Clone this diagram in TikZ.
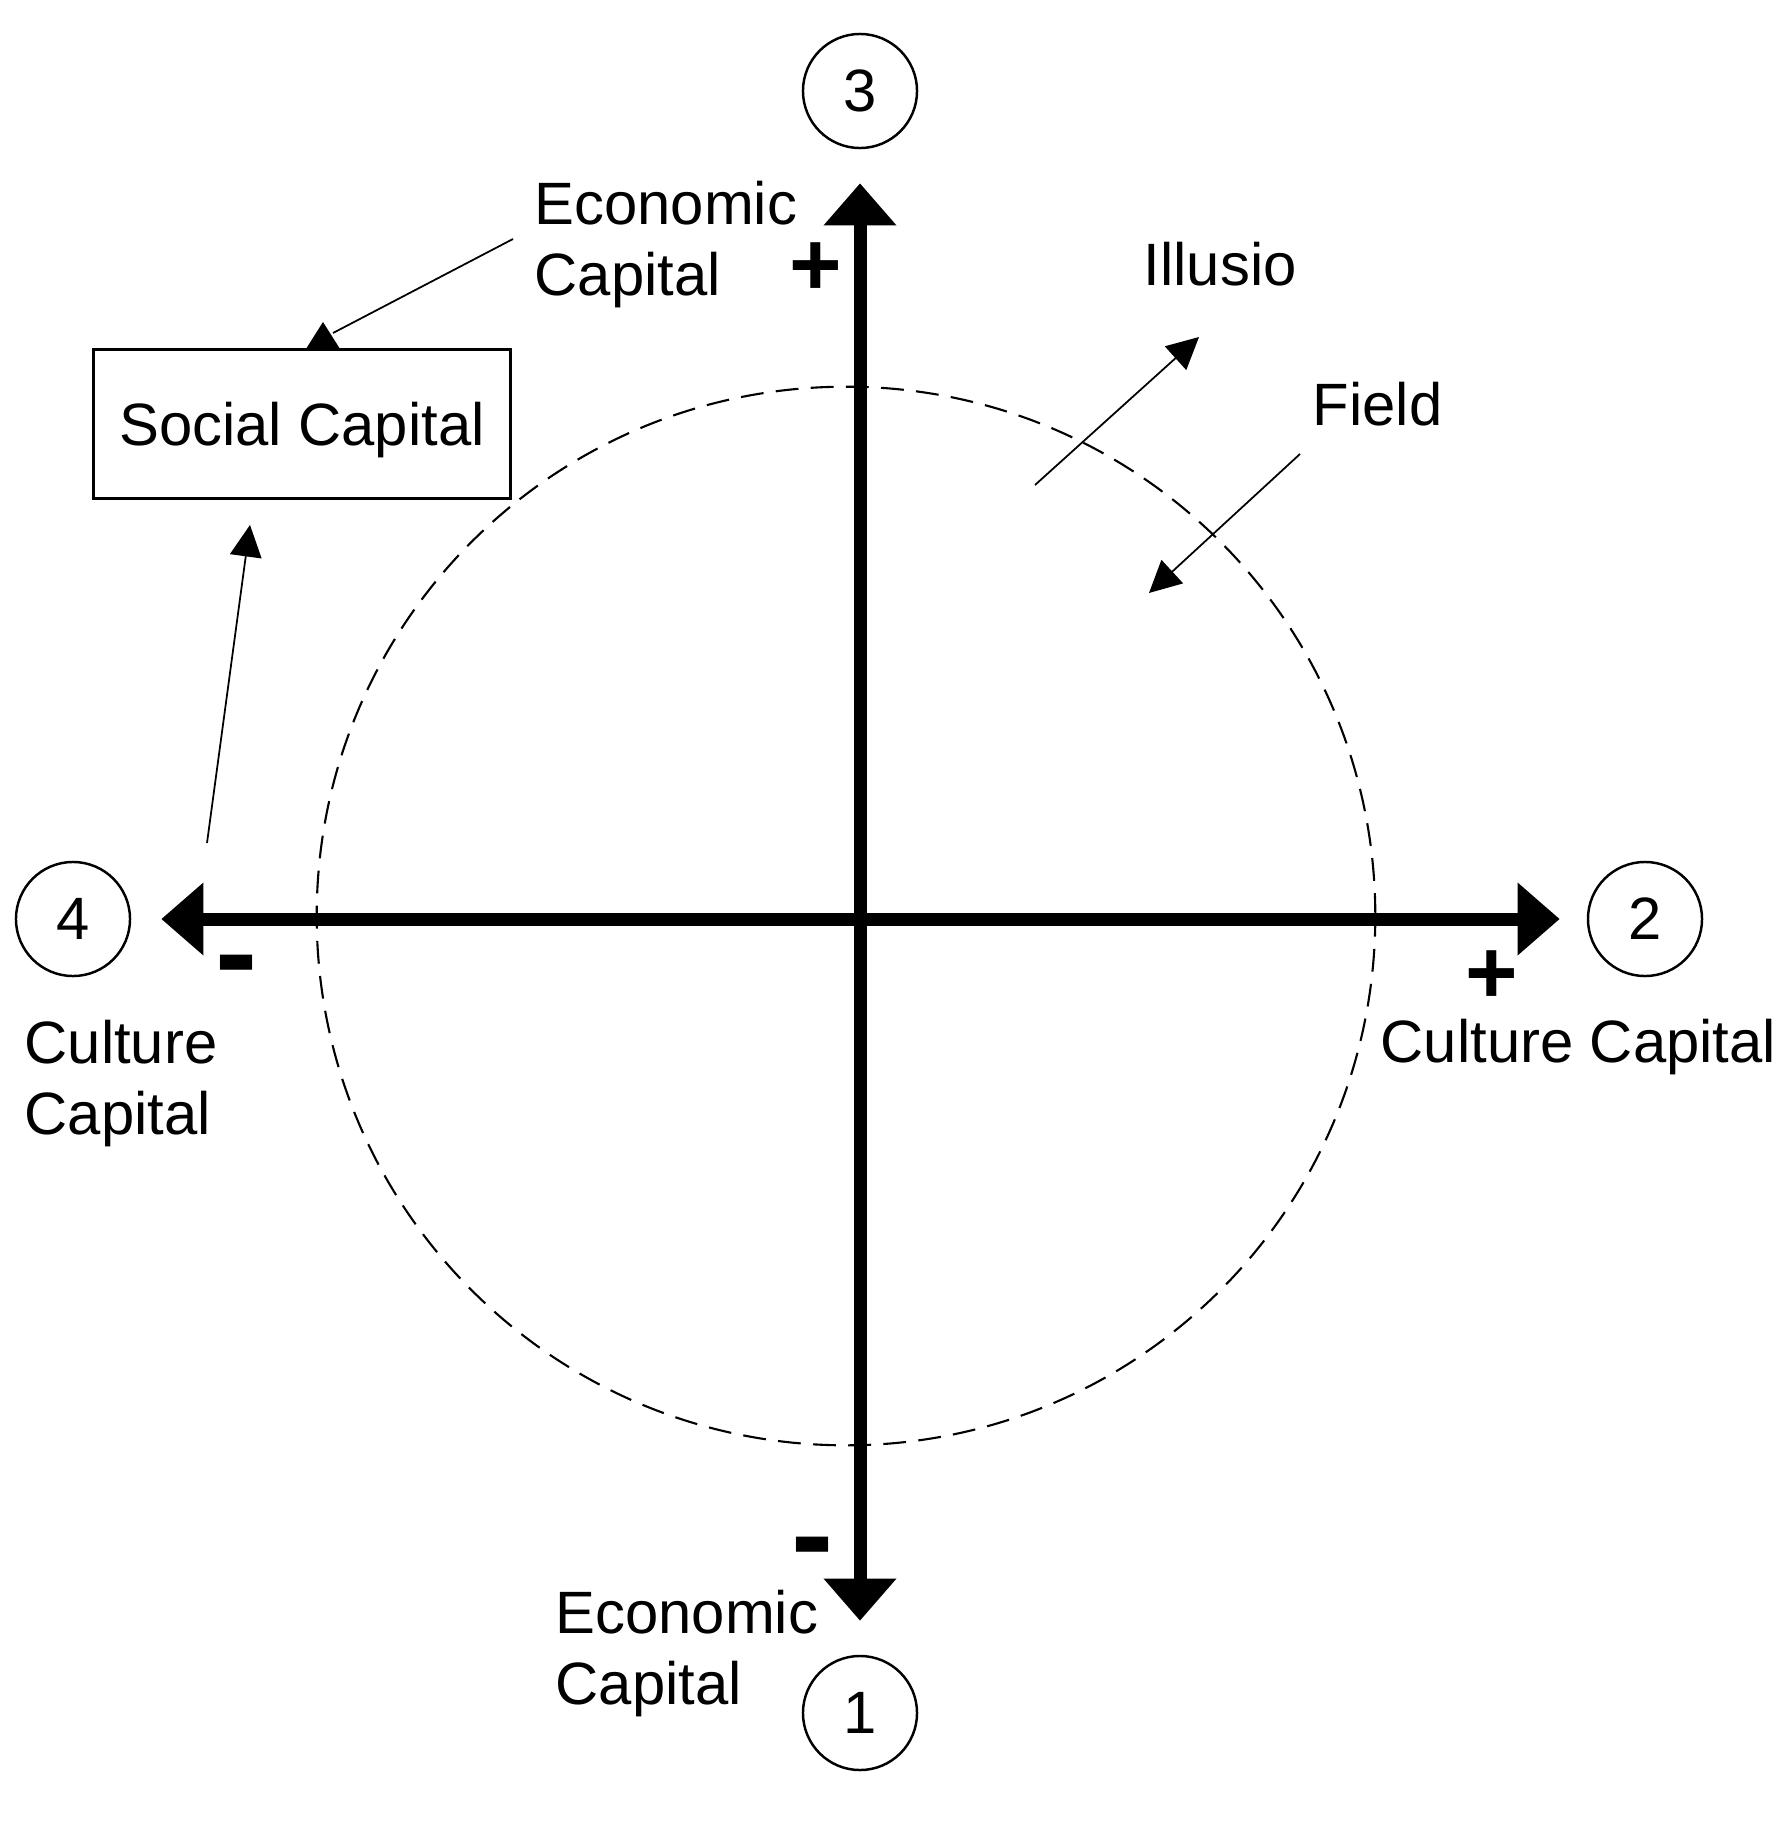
\documentclass[tikz,border=0pt]{standalone}
\usepackage{fontspec}
\setmainfont{Liberation Sans}
\usetikzlibrary{arrows.meta,calc}
\newcommand{\capfont}{\fontsize{17}{20.3}\selectfont}
\newcommand{\plusfont}{\fontsize{25.6}{28}\selectfont\bfseries}
\newcommand{\minusfont}{\fontsize{36}{38}\selectfont\bfseries}
\tikzset{
  numc/.style={draw,circle,line width=0.7pt,minimum size=1.14cm,inner sep=0pt,font=\capfont},
  lbl/.style={font=\capfont,align=left,inner sep=0pt},
  psign/.style={font=\plusfont,inner sep=0pt},
  msign/.style={font=\minusfont,inner sep=0pt,anchor=base},
  axis/.style={{Triangle[length=12pt,width=20pt]}-{Triangle[length=12pt,width=20pt]},line width=3.7pt},
  thinarr/.style={-{Triangle[length=9pt,width=9pt]},line width=0.5pt},
  fieldc/.style={dash pattern=on 6.5pt off 3.5pt,line width=0.6pt},
  sbox/.style={draw,line width=0.8pt,minimum width=4.17cm,minimum height=1.49cm,font=\capfont,text depth=0pt},
}

\begin{document}
\begin{tikzpicture}[x=0.01cm,y=-0.01cm]
  \useasboundingbox (0,0) rectangle (1787,1836);
  % the field
  \coordinate (centre) at (846,916);
  \draw[fieldc] (centre) circle [radius=5.29cm];
  % numbered ends
  \foreach \n/\x/\y in {1/860/1713,2/1645/919,3/860/91,4/73/919}{\node[numc] (n\n) at (\x,\y) {\n};}
  % axes
  \draw[axis,shorten <=0.3cm,shorten >=0.27cm] (n4) -- (n2);
  \draw[axis,shorten <=0.34cm,shorten >=0.34cm] (n1) -- (n3);
  \node[psign] (ptop) at (816,269) {+};
  \node[psign] (pright) at (1492,977) {+};
  \node[msign] (mleft) at (237,995) {-};
  \node[msign] (mbot) at (813,1577) {-};
  % labels
  \node[lbl,anchor=north west] (econtop) at (534,180) {Economic\\Capital};
  \node[lbl,anchor=north west] (econbot) at (555,1589) {Economic\\Capital};
  \node[lbl,anchor=north west] (cultleft) at (24,1019) {Culture\\Capital};
  \node[lbl,anchor=base west] (cultright) at (1380,1062) {Culture Capital};
  \node[lbl,anchor=base west] (illusio) at (1143,285) {Illusio};
  \node[lbl,anchor=base west] (field) at (1312,425) {Field};
  \node[sbox] (social) at (302,424) {Social Capital};
  % arrows
  \coordinate (iltail) at (1035,485);
  \coordinate (iltip) at (1199,337);
  \draw[thinarr] (iltail) -- (iltip);
  \coordinate (fdtail) at (1300,454);
  \coordinate (fdtip) at (1149,593);
  \draw[thinarr] (fdtail) -- (fdtip);
  \coordinate (ectail) at (513,239);
  \coordinate (ecend) at (333,333);
  \coordinate (ectip) at (323,322);
  \draw[line width=0.5pt] (ectail) -- (ecend);
  \draw[-{Triangle[length=8pt,width=10pt]},line width=0.5pt] (social.north -| ectip) -- (ectip);
  \coordinate (cctail) at (207,843);
  \draw[thinarr] (cctail) -- ($(social.south)+(-52,25)$);
\end{tikzpicture}
\end{document}
